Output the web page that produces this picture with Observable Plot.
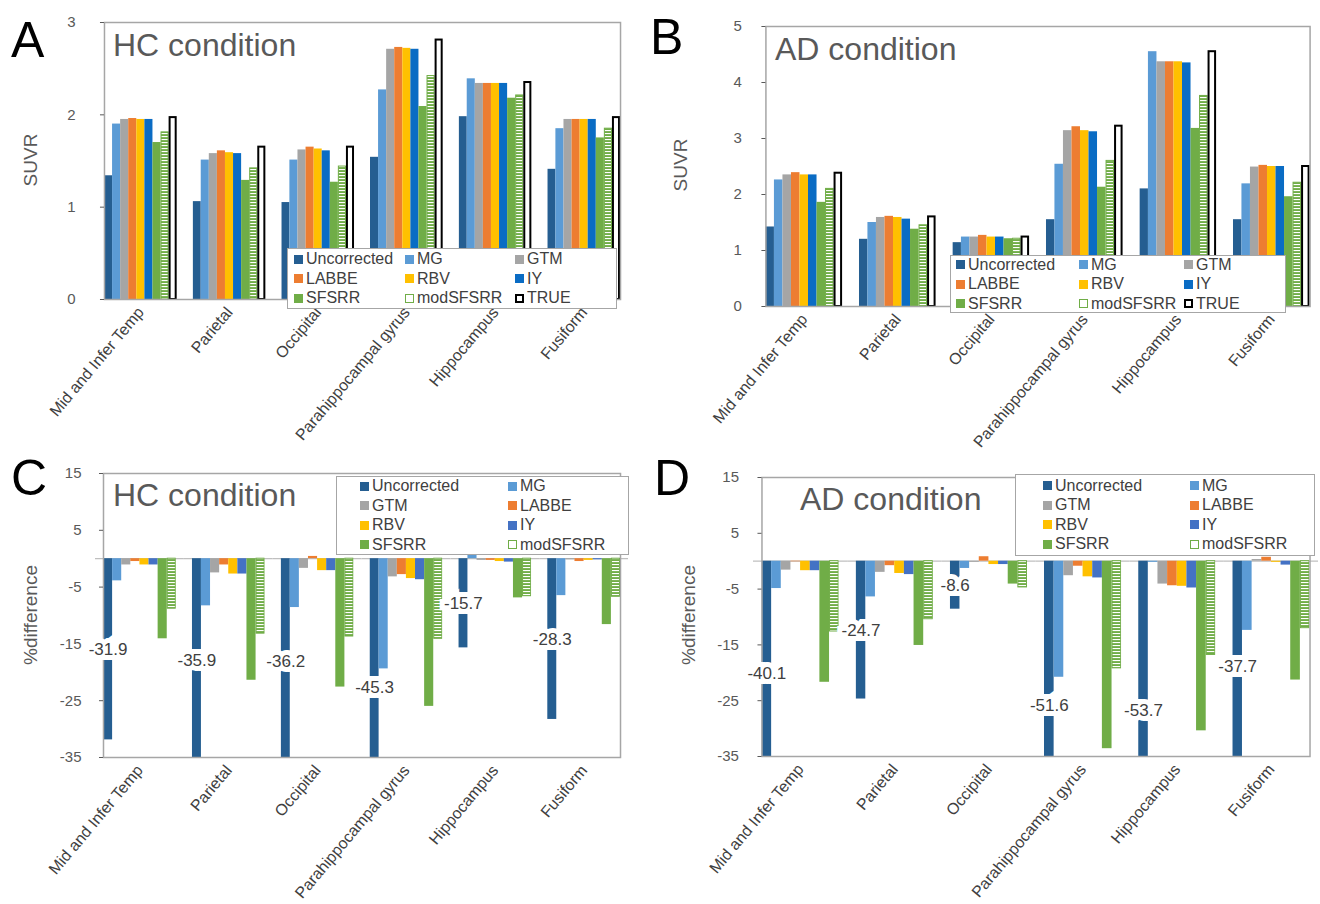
<!DOCTYPE html>
<html>
<head>
<meta charset="utf-8">
<script src="https://cdn.jsdelivr.net/npm/d3@7"></script>
<script src="https://cdn.jsdelivr.net/npm/@observablehq/plot@0.6"></script>
<style>
  html, body { margin: 0; padding: 0; background: #fff; }
  body { width: 1320px; height: 904px; position: relative; overflow: hidden; font-family: "Liberation Sans", Arial, sans-serif; }
  .panel { position: absolute; }
  .abs { position: absolute; white-space: nowrap; line-height: 1; }
  .letter { font-size: 50px; color: #000; }
  .title { font-size: 32px; color: #595959; }
  .ytitle { font-size: 19px; color: #595959; transform: translate(-50%, -50%) rotate(-90deg); }
  .legend { position: absolute; background: #fff; border: 1.5px solid #a6a6a6; box-sizing: border-box; display: grid; font-size: 16px; color: #404040; align-content: center; }
  .item { display: flex; align-items: center; height: 19.5px; white-space: nowrap; }
  .sw { width: 9px; height: 9px; margin-right: 3px; box-sizing: border-box; flex: none; }
</style>
</head>
<body>
<script>
// ---------- data ----------
const regions = ["Mid and Infer Temp", "Parietal", "Occipital", "Parahippocampal gyrus", "Hippocampus", "Fusiform"];
const suvrSeries = ["Uncorrected", "MG", "GTM", "LABBE", "RBV", "IY", "SFSRR", "modSFSRR", "TRUE"];
const diffSeries = ["Uncorrected", "MG", "GTM", "LABBE", "RBV", "IY", "SFSRR", "modSFSRR"];
const suvrTicks = [0, 1, 2, 3];
const suvrTicksAD = [0, 1, 2, 3, 4, 5];
const diffTicks = [15, 5, -5, -15, -25, -35];

// Panel A: HC condition, SUVR
const hcSuvrUncorrected = [1.34, 1.06, 1.05, 1.54, 1.98, 1.41];
const hcSuvrMG          = [1.90, 1.51, 1.51, 2.27, 2.39, 1.85];
const hcSuvrGTM         = [1.95, 1.58, 1.62, 2.71, 2.34, 1.95];
const hcSuvrLABBE       = [1.96, 1.61, 1.65, 2.73, 2.34, 1.95];
const hcSuvrRBV         = [1.95, 1.59, 1.63, 2.72, 2.34, 1.95];
const hcSuvrIY          = [1.95, 1.58, 1.61, 2.71, 2.34, 1.95];
const hcSuvrSFSRR       = [1.70, 1.29, 1.27, 2.09, 2.18, 1.75];
const hcSuvrModSFSRR    = [1.81, 1.42, 1.44, 2.42, 2.21, 1.85];
const hcSuvrTRUE        = [1.97, 1.65, 1.65, 2.81, 2.35, 1.97];

// Panel B: AD condition, SUVR
const adSuvrUncorrected = [1.42, 1.20, 1.14, 1.55, 2.10, 1.55];
const adSuvrMG          = [2.26, 1.50, 1.24, 2.54, 4.55, 2.19];
const adSuvrGTM         = [2.35, 1.59, 1.24, 3.14, 4.37, 2.49];
const adSuvrLABBE       = [2.39, 1.61, 1.27, 3.21, 4.37, 2.52];
const adSuvrRBV         = [2.35, 1.59, 1.24, 3.14, 4.37, 2.50];
const adSuvrIY          = [2.35, 1.56, 1.24, 3.12, 4.35, 2.50];
const adSuvrSFSRR       = [1.86, 1.38, 1.21, 2.13, 3.18, 1.96];
const adSuvrModSFSRR    = [2.10, 1.45, 1.21, 2.60, 3.76, 2.21];
const adSuvrTRUE        = [2.38, 1.60, 1.24, 3.22, 4.55, 2.50];

// Panel C: HC condition, % difference
const hcDiffUncorrected = [-31.9, -35.9, -36.2, -45.3, -15.7, -28.3];
const hcDiffMG          = [-3.9, -8.3, -8.6, -19.4, 1.1, -6.5];
const hcDiffGTM         = [-1.1, -2.5, -1.7, -3.2, -0.3, -0.2];
const hcDiffLABBE       = [-0.5, -1.1, 0.4, -2.8, -0.3, -0.5];
const hcDiffRBV         = [-1.1, -2.7, -2.1, -3.5, -0.5, -0.3];
const hcDiffIY          = [-1.1, -2.7, -2.1, -3.7, -0.6, -0.2];
const hcDiffSFSRR       = [-14.1, -21.4, -22.6, -26.0, -6.9, -11.6];
const hcDiffModSFSRR    = [-8.8, -13.2, -13.7, -14.1, -6.6, -6.7];

// Panel D: AD condition, % difference
const adDiffUncorrected = [-40.1, -24.7, -8.6, -51.6, -53.7, -37.7];
const adDiffMG          = [-4.9, -6.4, -1.3, -20.8, -0.2, -12.4];
const adDiffGTM         = [-1.6, -2.0, -0.2, -2.6, -4.1, 0.3];
const adDiffLABBE       = [-0.1, -0.8, 0.8, -0.9, -4.4, 0.7];
const adDiffRBV         = [-1.7, -2.2, -0.6, -2.8, -4.5, -0.2];
const adDiffIY          = [-1.7, -2.4, -0.6, -3.0, -4.8, -0.7];
const adDiffSFSRR       = [-21.7, -15.1, -4.1, -33.6, -30.4, -21.3];
const adDiffModSFSRR    = [-12.6, -10.4, -4.7, -19.2, -16.8, -12.0];

// colours
const colorsTop    = ["#255e91", "#5b9bd5", "#a5a5a5", "#ed7d31", "#ffc000", "#0a6cc4", "#70ad47"];
const colorsBottom = ["#255e91", "#5b9bd5", "#a5a5a5", "#ed7d31", "#ffc000", "#4472c4", "#70ad47"];
const hatchGreen = "#70ad47";

// ---------- helpers ----------
function rowsFrom(seriesNames, arrays) {
  const out = [];
  regions.forEach((region, i) => seriesNames.forEach((s, j) => out.push({region, series: s, value: arrays[j][i]})));
  return out;
}

function addPattern(svg, id) {
  const defs = d3.select(svg).insert("defs", ":first-child");
  const p = defs.append("pattern").attr("id", id).attr("patternUnits", "userSpaceOnUse").attr("width", 6).attr("height", 3);
  p.append("rect").attr("width", 6).attr("height", 3).attr("fill", hatchGreen);
  p.append("rect").attr("y", 1).attr("width", 6).attr("height", 1.1).attr("fill", "#fff");
}

function drawPanel(cfg) {
  const {rows, series, colors, yDomain, yTicks, left, top, width, height, ml, mt, mr, mb, diff, patId, tickPadding} = cfg;
  const plainNames = series.filter(s => s !== "modSFSRR" && s !== "TRUE");
  const half = (width - ml - mr) / regions.length * 0.09;
  const marks = [];
  if (diff) marks.push(Plot.ruleY([0], {stroke: "#bfbfbf", strokeWidth: 1.2, insetLeft: -half, insetRight: -half}));
  marks.push(Plot.barY(rows.filter(d => plainNames.includes(d.series)), {fx: "region", x: "series", y: "value", fill: "series", clip: true}));
  marks.push(Plot.barY(rows.filter(d => d.series === "modSFSRR"), {fx: "region", x: "series", y: "value", fill: `url(#${patId})`, stroke: hatchGreen, strokeWidth: 1, insetLeft: 0.5, insetRight: 0.5, clip: true}));
  if (series.includes("TRUE")) marks.push(Plot.barY(rows.filter(d => d.series === "TRUE"), {fx: "region", x: "series", y: "value", fill: "#fff", stroke: "#000", strokeWidth: 2, insetLeft: 1, insetRight: 1}));
  marks.push(Plot.frame({facet: "super", stroke: "#a6a6a6", strokeWidth: 1.5}));
  marks.push(Plot.axisY({ticks: yTicks, tickSize: 4, tickPadding, fontSize: 15, color: "#595959", label: null, tickFormat: d => String(d)}));
  marks.push(Plot.axisFx({anchor: "bottom", tickRotate: -50, tickSize: 0, tickPadding: 10, fontSize: 16, color: "#404040", label: null}));
  if (diff) marks.push(Plot.text(rows.filter(d => d.series === "Uncorrected"), {
    fx: "region", x: "series", y: d => d.value / 2, text: d => d.value.toFixed(1),
    fontSize: 17, fill: "#404040", stroke: "#fff", strokeWidth: 10, paintOrder: "stroke", strokeLinejoin: "miter"
  }));
  const svg = Plot.plot({
    width, height, marginLeft: ml, marginTop: mt, marginRight: mr, marginBottom: mb,
    style: {fontFamily: "'Liberation Sans', Arial, sans-serif", background: "transparent", overflow: "visible"},
    fx: {domain: regions, paddingInner: 0.18, paddingOuter: 0.09, round: false, label: null},
    x: {domain: series, padding: 0, round: false, axis: null},
    y: {domain: yDomain, nice: false, label: null},
    color: {domain: plainNames, range: colors},
    marks
  });
  addPattern(svg, patId);
  const div = document.createElement("div");
  div.className = "panel";
  div.style.left = left + "px";
  div.style.top = top + "px";
  div.appendChild(svg);
  document.body.appendChild(div);
}

function addText(cls, text, left, top) {
  const d = document.createElement("div");
  d.className = "abs " + cls;
  d.textContent = text;
  d.style.left = left + "px";
  d.style.top = top + "px";
  document.body.appendChild(d);
}

function addYTitle(text, cx, cy) {
  const d = document.createElement("div");
  d.className = "abs ytitle";
  d.textContent = text;
  d.style.left = cx + "px";
  d.style.top = cy + "px";
  document.body.appendChild(d);
}

function addLegend(cfg) {
  const {items, colors, left, top, width, height, colWidths, padLeft} = cfg;
  const box = document.createElement("div");
  box.className = "legend";
  Object.assign(box.style, {left: left + "px", top: top + "px", width: width + "px", height: height + "px",
    gridTemplateColumns: colWidths.map(w => w + "px").join(" "), paddingLeft: padLeft + "px"});
  items.forEach((name, i) => {
    const it = document.createElement("div");
    it.className = "item";
    const sw = document.createElement("span");
    sw.className = "sw";
    if (name === "modSFSRR") { sw.style.background = "#fff"; sw.style.border = "1.5px solid " + hatchGreen; }
    else if (name === "TRUE") { sw.style.background = "#fff"; sw.style.border = "2px solid #000"; }
    else sw.style.background = colors[i];
    const tx = document.createElement("span");
    tx.textContent = name;
    it.appendChild(sw); it.appendChild(tx);
    box.appendChild(it);
  });
  document.body.appendChild(box);
}

// ---------- panels ----------
const hcSuvrRows = rowsFrom(suvrSeries, [hcSuvrUncorrected, hcSuvrMG, hcSuvrGTM, hcSuvrLABBE, hcSuvrRBV, hcSuvrIY, hcSuvrSFSRR, hcSuvrModSFSRR, hcSuvrTRUE]);
const adSuvrRows = rowsFrom(suvrSeries, [adSuvrUncorrected, adSuvrMG, adSuvrGTM, adSuvrLABBE, adSuvrRBV, adSuvrIY, adSuvrSFSRR, adSuvrModSFSRR, adSuvrTRUE]);
const hcDiffRows = rowsFrom(diffSeries, [hcDiffUncorrected, hcDiffMG, hcDiffGTM, hcDiffLABBE, hcDiffRBV, hcDiffIY, hcDiffSFSRR, hcDiffModSFSRR]);
const adDiffRows = rowsFrom(diffSeries, [adDiffUncorrected, adDiffMG, adDiffGTM, adDiffLABBE, adDiffRBV, adDiffIY, adDiffSFSRR, adDiffModSFSRR]);

drawPanel({rows: hcSuvrRows, series: suvrSeries, colors: colorsTop, yDomain: [0, 3], yTicks: suvrTicks,
  left: 0, top: 0, width: 650, height: 452, ml: 96, mt: 22, mr: 22, mb: 153, diff: false, patId: "hatchA", tickPadding: 25});
drawPanel({rows: adSuvrRows, series: suvrSeries, colors: colorsTop, yDomain: [0, 5], yTicks: suvrTicksAD,
  left: 650, top: 0, width: 670, height: 452, ml: 107, mt: 26, mr: 2, mb: 146, diff: false, patId: "hatchB", tickPadding: 20});
drawPanel({rows: hcDiffRows, series: diffSeries, colors: colorsBottom, yDomain: [-35, 15], yTicks: diffTicks,
  left: 0, top: 452, width: 650, height: 452, ml: 95, mt: 21, mr: 22, mb: 147, diff: true, patId: "hatchC", tickPadding: 18});
drawPanel({rows: adDiffRows, series: diffSeries, colors: colorsBottom, yDomain: [-35, 15], yTicks: diffTicks,
  left: 650, top: 452, width: 670, height: 452, ml: 103, mt: 25, mr: 2, mb: 148, diff: true, patId: "hatchD", tickPadding: 19});

// panel letters, titles, axis titles
addText("letter", "A", 11, 15);
addText("letter", "B", 650, 12);
addText("letter", "C", 11, 453);
addText("letter", "D", 654, 453);
addText("title", "HC condition", 113, 29);
addText("title", "AD condition", 775, 33);
addText("title", "HC condition", 113, 479);
addText("title", "AD condition", 800, 483);
addYTitle("SUVR", 30, 160);
addYTitle("SUVR", 680, 165);
addYTitle("%difference", 30, 615);
addYTitle("%difference", 688, 615);

// legends
const legendColorsTop = ["#255e91", "#5b9bd5", "#a5a5a5", "#ed7d31", "#ffc000", "#0a6cc4", "#70ad47", null, null];
const legendItemsBottom = ["Uncorrected", "MG", "GTM", "LABBE", "RBV", "IY", "SFSRR", "modSFSRR"];
const legendColorsBottom = ["#255e91", "#5b9bd5", "#a5a5a5", "#ed7d31", "#ffc000", "#4472c4", "#70ad47", null];
addLegend({items: suvrSeries, colors: legendColorsTop, left: 287, top: 248, width: 330, height: 61, colWidths: [111, 110, 100], padLeft: 6});
addLegend({items: suvrSeries, colors: legendColorsTop, left: 950, top: 255, width: 336, height: 58, colWidths: [123, 105, 100], padLeft: 5});
addLegend({items: legendItemsBottom, colors: legendColorsBottom, left: 336, top: 476, width: 293, height: 79, colWidths: [148, 130], padLeft: 23});
addLegend({items: legendItemsBottom, colors: legendColorsBottom, left: 1015, top: 474, width: 300, height: 82, colWidths: [147, 140], padLeft: 27});
</script>
</body>
</html>
